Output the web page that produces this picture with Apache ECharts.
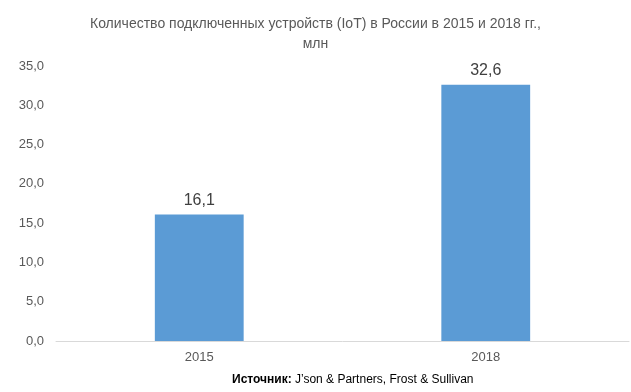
<!DOCTYPE html>
<html><head><meta charset="utf-8">
<script src="https://cdn.jsdelivr.net/npm/echarts@6/dist/echarts.min.js"></script>
<style>html,body{margin:0;padding:0;background:#fff}#c{width:631px;height:392px}</style>
</head><body><div id="c"></div>
<script>
const categories = ['2015', '2018'];
const values = [16.1, 32.6];
const titleText = 'Количество подключенных устройств (IoT) в России в 2015 и 2018 гг.,\nмлн';
const sourceBold = 'Источник:';
const sourceText = ' J\u2019son & Partners, Frost & Sullivan';
const fmt = v => v.toFixed(1).replace('.', ',');
const chart = echarts.init(document.getElementById('c'));
chart.setOption({
  animation: false,
  title: {
    text: titleText, left: 'center', top: 9,
    textStyle: {fontFamily: 'Liberation Sans, Arial', fontSize: 14, fontWeight: 'normal', color: '#595959', lineHeight: 20}
  },
  graphic: [{
    type: 'text', left: 232, top: 374,
    style: {
      text: '{b|' + sourceBold + '}{n|' + sourceText + '}',
      rich: {
        b: {fontFamily: 'Liberation Sans, Arial', fontSize: 12, fontWeight: 'bold', fill: '#000'},
        n: {fontFamily: 'Liberation Sans, Arial', fontSize: 12, fill: '#000'}
      }
    }
  }],
  grid: {left: 56, right: 2, top: 66, bottom: 51},
  xAxis: {
    type: 'category', data: categories,
    axisLine: {lineStyle: {color: '#d9d9d9'}}, axisTick: {show: false},
    axisLabel: {fontFamily: 'Liberation Sans, Arial', fontSize: 13, color: '#595959', margin: 10}
  },
  yAxis: {
    type: 'value', min: 0, max: 35, interval: 5,
    splitLine: {show: false}, axisLine: {show: false}, axisTick: {show: false},
    axisLabel: {fontFamily: 'Liberation Sans, Arial', fontSize: 13, color: '#595959', margin: 12, formatter: fmt}
  },
  series: [{
    type: 'bar', data: values, barWidth: '31%',
    itemStyle: {color: '#5B9BD5'},
    label: {show: true, position: 'top', distance: 6, fontFamily: 'Liberation Sans, Arial', fontSize: 16, color: '#404040', formatter: p => fmt(p.value)}
  }]
});
</script></body></html>
